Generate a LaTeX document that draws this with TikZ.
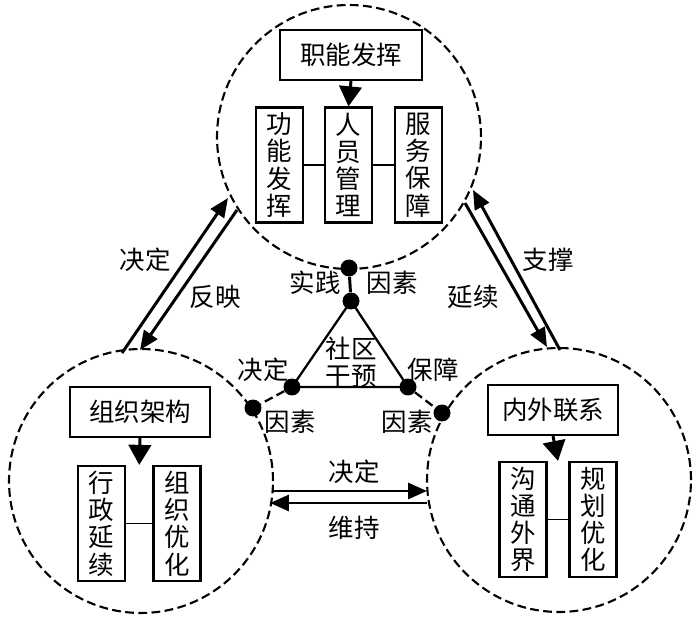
\documentclass[tikz,border=0pt]{standalone}
\usepackage{fontspec}
\setmainfont{Noto Sans CJK SC}
\usetikzlibrary{arrows.meta, calc}

\begin{document}
\begin{tikzpicture}[
    x=0.02cm, y=-0.02cm,
    font=\fontsize{14.5}{15.5}\selectfont,
    zone/.style={circle, draw, dash pattern=on 5pt off 2.5pt, line width=1.2pt, minimum size=5.28cm, inner sep=0pt},
    titlebox/.style={draw, line width=1.3pt, minimum height=1cm, inner sep=0pt},
    colbox/.style={draw, line width=1.3pt, minimum width=0.94cm, minimum height=2.3cm, align=center, inner sep=0pt},
    knot/.style={circle, fill, minimum size=0.34cm, inner sep=0pt},
    link/.style={line width=1.7pt, -{Triangle[length=0.38cm, width=0.32cm]}},
    feed/.style={line width=1.7pt, -{Triangle[length=0.4cm, width=0.45cm]}}
]
\useasboundingbox (0,0) rectangle (700,621);

% three zones
\node[zone] (top) at (349,137) {};
\node[zone] (left) at (141,481) {};
\node[zone] (right) at (559,480) {};

% top zone
\node[titlebox, minimum width=2.84cm] (zn) at (351,55) {职能发挥};
\node[colbox] (gn) at (279.5,165) {功\\能\\发\\挥};
\node[colbox] (ry) at (348.5,165) {人\\员\\管\\理};
\node[colbox] (fw) at (418.5,165) {服\\务\\保\\障};
\draw[feed] (zn.south) -- (ry.north);
\draw[line width=0.8pt] (gn) -- (ry) (ry) -- (fw);

% left zone
\node[titlebox, minimum width=2.8cm] (zz) at (140,412) {组织架构};
\node[colbox] (xz) at (101.5,523.5) {行\\政\\延\\续};
\node[colbox] (yh) at (177,523.5) {组\\织\\优\\化};
\draw[feed] (zz.south) -- ($(xz.north east)!0.5!(yh.north west)$);
\draw[line width=0.8pt] (xz) -- (yh);

% right zone
\node[titlebox, minimum width=2.6cm] (nw) at (553,410) {内外联系};
\node[colbox] (gt) at (523,519.5) {沟\\通\\外\\界};
\node[colbox] (gh) at (593,519.5) {规\\划\\优\\化};
\draw[feed] (nw.south) -- ($(gt.north east)!0.5!(gh.north west)$);
\draw[line width=0.8pt] (gt) -- (gh);

% centre triangle
\node[knot] (t1) at (349,268) {};
\node[knot] (t2) at (351,301) {};
\node[knot] (l1) at (292,387) {};
\node[knot] (l2) at (253,408) {};
\node[knot] (r1) at (408,387) {};
\node[knot] (r2) at (442,413) {};
\draw[line width=1.3pt] (t2.center) -- (l1.center) -- (r1.center) -- cycle;
\draw[line width=1.7pt] (t1) -- (t2);
\draw[line width=1.3pt, dash pattern=on 5pt off 2.5pt] (l1) -- (l2) (r1) -- (r2);
\node[align=center] (sq) at (351,362) {社区\\干预};
\node (sj) at (315,283) {实践};
\node (ys1) at (392,283) {因素};
\node (jd1) at (263,370) {决定};
\node (ys2) at (290,422) {因素};
\node (bz) at (433,370) {保障};
\node (ys3) at (407,422) {因素};

% links between zones
\coordinate (a1) at (122,353);
\coordinate (a2) at (228,198);
\coordinate (b1) at (237,210);
\coordinate (b2) at (140,350);
\draw[link] (a1) -- (a2);
\draw[link] (b1) -- (b2);
\node (jd2) at (145,260) {决定};
\node (fy) at (215,297) {反映};

\coordinate (c1) at (465,203);
\coordinate (c2) at (547,347);
\coordinate (d1) at (560,350);
\coordinate (d2) at (473,190);
\draw[link] (c1) -- (c2);
\draw[link] (d1) -- (d2);
\node (zc) at (548,260) {支撑};
\node (yx) at (473,297) {延续};

\coordinate (e1) at (273,491);
\coordinate (e2) at (427,491);
\coordinate (f1) at (427,503);
\coordinate (f2) at (270,503);
\draw[link] (e1) -- (e2);
\draw[link] (f1) -- (f2);
\node (jd3) at (354,472) {决定};
\node (wc) at (354,528) {维持};
\end{tikzpicture}
\end{document}
